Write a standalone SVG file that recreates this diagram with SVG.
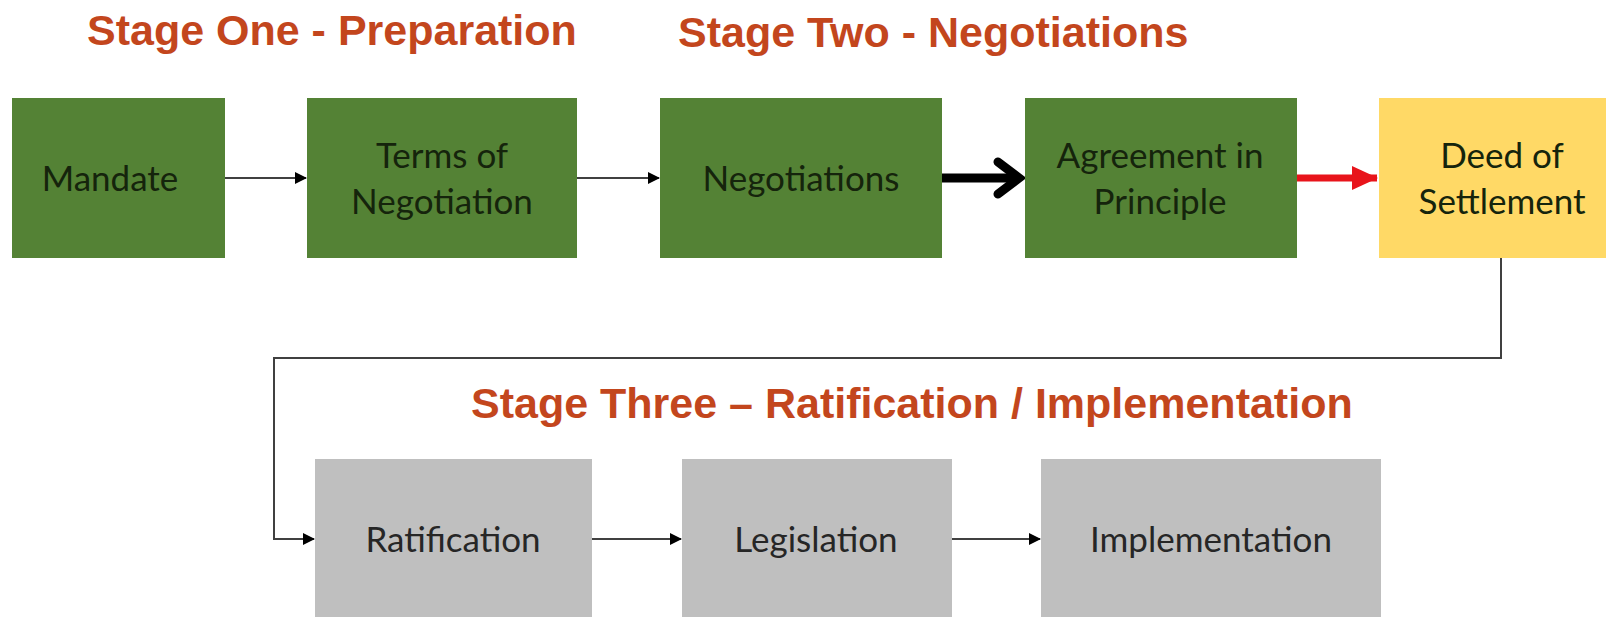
<svg xmlns="http://www.w3.org/2000/svg" width="1606" height="617" viewBox="0 0 1606 617">
  <defs>
    <style>
      .hdr { font-family: "Liberation Sans", Arial, sans-serif; font-weight: bold; font-size: 43px; fill: #C3461D; }
      .green { fill: #548235; }
      .yellow { fill: #FFD966; }
      .gray { fill: #BFBFBF; }
      .lbl { font-family: Lato, "Open Sans", sans-serif; font-size: 35px; text-anchor: middle; }
      .dk { fill: #15240c; }
      .gk { fill: #262626; }
      .thin { stroke: #404040; stroke-width: 2; fill: none; }
    </style>
    <marker id="tri" markerWidth="12" markerHeight="12" refX="11" refY="6" orient="auto" markerUnits="userSpaceOnUse">
      <path d="M0,0 L12,6 L0,12 Z" fill="#000"/>
    </marker>
    <marker id="redtri" markerWidth="26" markerHeight="24" refX="25" refY="12" orient="auto" markerUnits="userSpaceOnUse">
      <path d="M0,0 L26,12 L0,24 Z" fill="#E8141B"/>
    </marker>
  </defs>
  <rect width="1606" height="617" fill="#ffffff"/>

  <text class="hdr" x="87" y="45">Stage One - Preparation</text>
  <text class="hdr" x="678" y="47">Stage Two - Negotiations</text>
  <text class="hdr" x="471" y="418">Stage Three – Ratification / Implementation</text>

  <g id="connectors">
    <line class="thin" x1="225" y1="178" x2="306" y2="178" marker-end="url(#tri)"/>
    <line class="thin" x1="577" y1="178" x2="659" y2="178" marker-end="url(#tri)"/>
    <g id="thick-arrow">
      <line x1="942" y1="178" x2="1019" y2="178" stroke="#000" stroke-width="9"/>
      <path d="M998,162 L1019,178 L998,194" fill="none" stroke="#000" stroke-width="9" stroke-linecap="round" stroke-linejoin="miter"/>
    </g>
    <line x1="1297" y1="178" x2="1377" y2="178" stroke="#E8141B" stroke-width="7" marker-end="url(#redtri)"/>
    <polyline class="thin" points="1501,258 1501,358 274,358 274,539 314,539" marker-end="url(#tri)"/>
    <line class="thin" x1="592" y1="539" x2="681" y2="539" marker-end="url(#tri)"/>
    <line class="thin" x1="952" y1="539" x2="1040" y2="539" marker-end="url(#tri)"/>
  </g>

  <g id="mandate">
    <rect class="green" x="12" y="98" width="213" height="160"/>
    <text class="lbl dk" x="110" y="191">Mandate</text>
  </g>
  <g id="terms">
    <rect class="green" x="307" y="98" width="270" height="160"/>
    <text class="lbl dk" x="442" y="168">Terms of</text>
    <text class="lbl dk" x="442" y="214">Negotiation</text>
  </g>
  <g id="negotiations">
    <rect class="green" x="660" y="98" width="282" height="160"/>
    <text class="lbl dk" x="801" y="191">Negotiations</text>
  </g>
  <g id="agreement">
    <rect class="green" x="1025" y="98" width="272" height="160"/>
    <text class="lbl dk" x="1160" y="168">Agreement in</text>
    <text class="lbl dk" x="1160" y="214">Principle</text>
  </g>
  <g id="deed">
    <rect class="yellow" x="1379" y="98" width="227" height="160"/>
    <text class="lbl dk" x="1502" y="168">Deed of</text>
    <text class="lbl dk" x="1502" y="214">Settlement</text>
  </g>
  <g id="ratification">
    <rect class="gray" x="315" y="459" width="277" height="158"/>
    <text class="lbl gk" x="453" y="552">Ratification</text>
  </g>
  <g id="legislation">
    <rect class="gray" x="682" y="459" width="270" height="158"/>
    <text class="lbl gk" x="816" y="552">Legislation</text>
  </g>
  <g id="implementation">
    <rect class="gray" x="1041" y="459" width="340" height="158"/>
    <text class="lbl gk" x="1211" y="552">Implementation</text>
  </g>
</svg>
